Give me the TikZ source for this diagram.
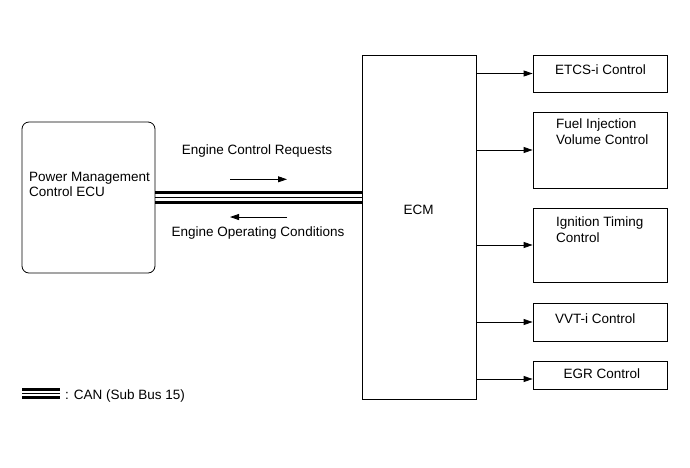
\documentclass[tikz,border=0pt]{standalone}
\usepackage{fontspec}
\setmainfont{Liberation Sans}
\usetikzlibrary{arrows.meta}

\tikzset{
  blk/.style={draw, line width=0.8pt, inner sep=0pt},
  txt/.style={anchor=north west, inner sep=0pt, align=left, font=\fontsize{13.5}{15.5}\selectfont},
  sig/.style={line width=0.8pt, -{Triangle[length=9pt,width=6pt]}},
  busfat/.style={line width=2.8pt},
  busthin/.style={line width=0.8pt}
}

\begin{document}
\begin{tikzpicture}[x=1pt, y=-1pt]
        \useasboundingbox (0,0) rectangle (690,467);

        % Blocks
        \node[blk, rounded corners=7pt, minimum width=133pt, minimum height=151pt] (pmecu) at (88.5,197.5) {};
        \node[blk, minimum width=114.5pt, minimum height=344pt] (ecm) at (419.25,227) {};
        \node[blk, minimum width=134pt, minimum height=37pt] (etcs) at (600,73.5) {};
        \node[blk, minimum width=134pt, minimum height=76pt] (fuel) at (600,150) {};
        \node[blk, minimum width=134pt, minimum height=74pt] (ign) at (600,245) {};
        \node[blk, minimum width=134pt, minimum height=38pt] (vvt) at (600,322) {};
        \node[blk, minimum width=134pt, minimum height=28pt] (egr) at (600,375) {};

        % Texts
        \node[txt] (pmtext) at (29,171.7) {Power Management\\Control ECU};
        \node[txt, anchor=base] (ecmtext) at (418.7,214) {ECM};
        \node[txt] (etcstext) at (555,65) {ETCS-i Control};
        \node[txt] (fueltext) at (556,119) {Fuel Injection\\Volume Control};
        \node[txt] (igntext) at (556,216.7) {Ignition Timing\\Control};
        \node[txt] (vvttext) at (555,313.3) {VVT-i Control};
        \node[txt] (egrtext) at (563.3,368.3) {EGR Control};

        % CAN bus
        \draw[busfat] ([yshift=5pt]pmecu.east) -- ([yshift=5pt]pmecu.east -| ecm.west);
        \draw[busthin] (pmecu.east) -- (pmecu.east -| ecm.west);
        \draw[busfat] ([yshift=-5pt]pmecu.east) -- ([yshift=-5pt]pmecu.east -| ecm.west);

        \node[txt, anchor=base] (reqtext) at (257,154.3) {Engine Control Requests};
        \node[txt, anchor=base] (condtext) at (258,236.7) {Engine Operating Conditions};
        \coordinate (reqa) at (230,179.3);
        \coordinate (reqb) at (287,179.3);
        \coordinate (conda) at (287,217);
        \coordinate (condb) at (230,217);
        \draw[sig] (reqa) -- (reqb);
        \draw[sig] (conda) -- (condb);

        % Outputs of the ECM
        \draw[sig] (ecm.east |- etcs.west) -- (etcs.west);
        \draw[sig] (ecm.east |- fuel.west) -- (fuel.west);
        \draw[sig] (ecm.east |- ign.west) -- (ign.west);
        \draw[sig] (ecm.east |- vvt.west) -- (vvt.west);
        \draw[sig] ([yshift=-4pt]ecm.east |- egr.west) -- ([yshift=-4pt]egr.west);

        % Legend
        \coordinate (lega) at (22,393.3);
        \coordinate (legb) at (60,393.3);
        \draw[busfat] ([yshift=4pt]lega) -- ([yshift=4pt]legb);
        \draw[busthin] (lega) -- (legb);
        \draw[busfat] ([yshift=-4pt]lega) -- ([yshift=-4pt]legb);
        \node[txt, anchor=base west] (legtext) at (65,399) {: CAN (Sub Bus 15)};
    \end{tikzpicture}
\end{document}
